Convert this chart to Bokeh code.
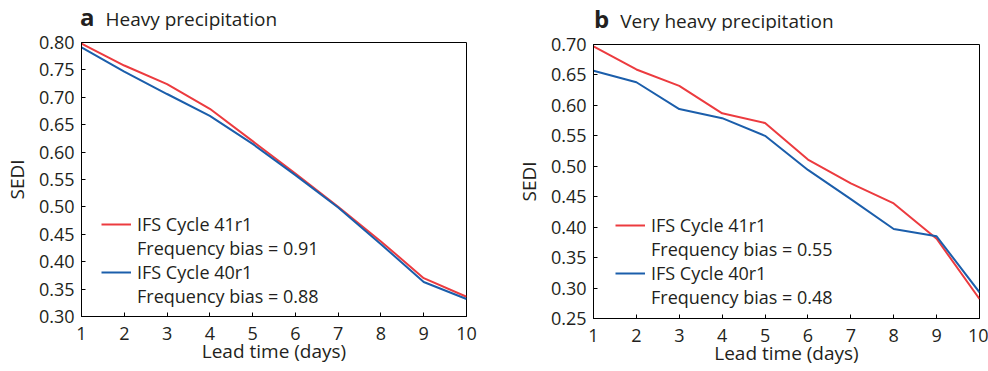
from bokeh.plotting import figure
from bokeh.layouts import row, column
from bokeh.models import Legend, LegendItem, Range1d, FixedTicker, NumeralTickFormatter, Div
from bokeh.embed import file_html
from bokeh.resources import INLINE

lead_days = [1, 2, 3, 4, 5, 6, 7, 8, 9, 10]

heavy_41r1 = [0.798, 0.758, 0.724, 0.679, 0.620, 0.561, 0.500, 0.437, 0.370, 0.336]
heavy_40r1 = [0.791, 0.747, 0.706, 0.666, 0.615, 0.558, 0.499, 0.432, 0.363, 0.332]

vheavy_41r1 = [0.697, 0.659, 0.632, 0.587, 0.571, 0.511, 0.472, 0.439, 0.381, 0.282]
vheavy_40r1 = [0.657, 0.638, 0.594, 0.579, 0.550, 0.494, 0.446, 0.397, 0.385, 0.293]

heavy_yticks = [0.30, 0.35, 0.40, 0.45, 0.50, 0.55, 0.60, 0.65, 0.70, 0.75, 0.80]
vheavy_yticks = [0.25, 0.30, 0.35, 0.40, 0.45, 0.50, 0.55, 0.60, 0.65, 0.70]

labels_41r1 = ["IFS Cycle 41r1", "Frequency bias = 0.91", "Frequency bias = 0.55"]
labels_40r1 = ["IFS Cycle 40r1", "Frequency bias = 0.88", "Frequency bias = 0.48"]

RED = "#EC3B3F"
BLUE = "#1B5EAB"
FONT = "Open Sans"
TXT = "#231F20"


def make_panel(letter, title, y41, y40, yticks, bias41, bias40, width, height,
               bl, br, bt, bb, leg_x, leg_y, title_pad, title_top, div_h):
    head = Div(text=('<span style="font-weight:bold;font-size:24px">%s</span>'
                     '<span style="margin-left:11px">%s</span>') % (letter, title),
               width=width, height=div_h, margin=0,
               styles={"font-family": FONT, "font-size": "19px", "color": TXT,
                       "line-height": "24px", "padding-left": "%dpx" % title_pad,
                       "white-space": "nowrap", "box-sizing": "border-box",
                       "padding-top": "%dpx" % title_top})
    p = figure(width=width, height=height, output_backend="svg", toolbar_location=None,
               x_range=Range1d(1, 10), y_range=Range1d(yticks[0], yticks[-1]),
               min_border_left=bl, min_border_right=br, min_border_top=bt,
               min_border_bottom=bb, margin=0)
    p.grid.visible = False
    p.outline_line_color = "black"
    p.outline_line_width = 1
    p.outline_line_alpha = 1
    for ax in (p.xaxis[0], p.yaxis[0]):
        ax.major_tick_in = 4
        ax.major_tick_out = 0
        ax.minor_tick_in = 0
        ax.minor_tick_out = 0
        ax.axis_line_color = "black"
        ax.major_tick_line_color = "black"
        ax.major_label_text_font = FONT
        ax.major_label_text_font_size = "18px"
        ax.major_label_text_color = TXT
        ax.axis_label_text_font = FONT
        ax.axis_label_text_font_size = "19px"
        ax.axis_label_text_font_style = "normal"
        ax.axis_label_text_color = TXT
    p.xaxis.ticker = FixedTicker(ticks=lead_days)
    p.yaxis.ticker = FixedTicker(ticks=yticks)
    p.yaxis.formatter = NumeralTickFormatter(format="0.00")
    p.xaxis.axis_label = "Lead time (days)"
    p.yaxis.axis_label = "SEDI"
    p.xaxis.major_label_standoff = 10
    p.yaxis.major_label_standoff = 7
    p.xaxis.axis_label_standoff = -5
    p.yaxis.axis_label_standoff = 6

    r41 = p.line(lead_days, y41, line_color=RED, line_width=2)
    r40 = p.line(lead_days, y40, line_color=BLUE, line_width=2)
    d41 = p.line(lead_days, y41, line_alpha=0)
    d40 = p.line(lead_days, y40, line_alpha=0)

    legend = Legend(items=[
        LegendItem(label=labels_41r1[0], renderers=[r41]),
        LegendItem(label=bias41, renderers=[d41]),
        LegendItem(label=labels_40r1[0], renderers=[r40]),
        LegendItem(label=bias40, renderers=[d40]),
    ], location=(leg_x, leg_y), background_fill_alpha=0, border_line_alpha=0,
        label_text_font=FONT, label_text_font_size="18px", label_text_color=TXT,
        glyph_width=30, glyph_height=24, label_height=24, spacing=0, padding=0,
        margin=0, label_standoff=6)
    p.add_layout(legend, "center")
    return column(head, p, spacing=0)


pa = make_panel("a", "Heavy precipitation", heavy_41r1, heavy_40r1, heavy_yticks,
                labels_41r1[1], labels_40r1[1], 500, 341, 79, 34, 12, 55, 20, 8, 80, 5, 30)
pb = make_panel("b", "Very heavy precipitation", vheavy_41r1, vheavy_40r1, vheavy_yticks,
                labels_41r1[2], labels_40r1[2], 488, 341, 93, 9, 14, 53, 22, 9, 94, 7, 30)

layout = row(pa, pb, spacing=0)
open("out.html", "w").write(file_html(layout, INLINE))
